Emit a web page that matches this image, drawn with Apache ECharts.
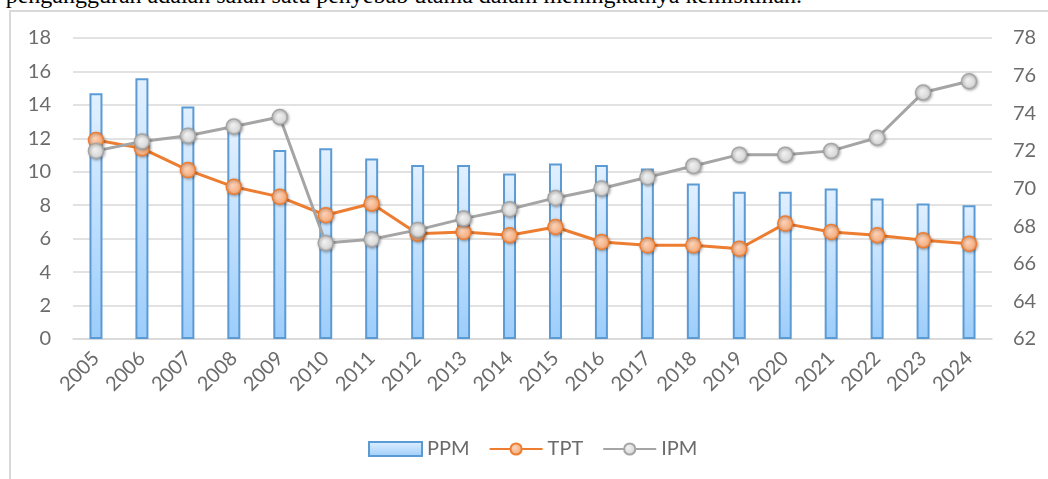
<!DOCTYPE html>
<html>
<head>
<meta charset="utf-8">
<script src="https://cdn.jsdelivr.net/npm/echarts@6/dist/echarts.min.js"></script>
<style>
html,body{margin:0;padding:0;background:#fff;overflow:hidden;}
#top{position:absolute;left:-7px;top:-17px;font-family:"Liberation Serif","Times New Roman",serif;font-size:24px;line-height:24px;color:#000;white-space:nowrap;}
#frame{position:absolute;left:9px;top:10px;width:1100px;height:600px;border:2px solid #d9d9d9;box-sizing:border-box;}
#main{position:absolute;left:0;top:0;width:1048px;height:479px;}
</style>
</head>
<body>
<div id="top">t pengangguran adalah salah satu penyebab utama dalam meningkatnya kemiskinan.</div>
<div id="frame"></div>
<div id="main"></div>
<script>
const years = ['2005','2006','2007','2008','2009','2010','2011','2012','2013','2014','2015','2016','2017','2018','2019','2020','2021','2022','2023','2024'];
const ppm = [14.7,15.6,13.9,12.6,11.3,11.4,10.8,10.4,10.4,9.9,10.5,10.4,10.2,9.3,8.8,8.8,9.0,8.4,8.1,8.0];
const tpt = [11.9,11.4,10.1,9.1,8.5,7.4,8.1,6.3,6.4,6.2,6.7,5.8,5.6,5.6,5.4,6.9,6.4,6.2,5.9,5.7];
const ipm = [72.0,72.5,72.8,73.3,73.8,67.1,67.3,67.8,68.4,68.9,69.5,70.0,70.6,71.2,71.8,71.8,72.0,72.7,75.1,75.7];
const leftTicks = {min:0,max:18,interval:2};
const rightTicks = {min:62,max:78,interval:2};

const chart = echarts.init(document.getElementById('main'), null, {renderer:'canvas'});
const font = 'Lato, "Noto Sans", sans-serif';
const labelColor = '#6b6b6b';
const gridColor = '#d9d9d9';
const fs = 20;
chart.setOption({
  animation:false,
  backgroundColor:'transparent',
  grid:{left:73,right:56,top:38,bottom:140,containLabel:false},
  legend:{
    left:368, top:439, padding:0, itemWidth:53, itemHeight:14, itemGap:19,
    textStyle:{color:labelColor,fontSize:fs,fontFamily:font,padding:[0,0,0,0]},
    data:[{name:'PPM',icon:'rect'},{name:'TPT'},{name:'IPM'}]
  },
  xAxis:{
    type:'category', data:years, boundaryGap:true,
    axisLine:{lineStyle:{color:gridColor,width:1.5}},
    axisTick:{show:false},
    axisLabel:{rotate:45,color:labelColor,fontSize:fs,fontFamily:font,margin:16,interval:0}
  },
  yAxis:[
    {type:'value',min:leftTicks.min,max:leftTicks.max,interval:leftTicks.interval,
     axisLine:{show:false},axisTick:{show:false},
     axisLabel:{color:labelColor,fontSize:fs,fontFamily:font,margin:22},
     splitLine:{lineStyle:{color:gridColor,width:1.5}}},
    {type:'value',min:rightTicks.min,max:rightTicks.max,interval:rightTicks.interval,
     axisLine:{show:false},axisTick:{show:false},
     axisLabel:{color:labelColor,fontSize:fs,fontFamily:font,margin:21},
     splitLine:{show:false}}
  ],
  series:[
    {name:'PPM',type:'bar',data:ppm,barWidth:13,yAxisIndex:0,
     itemStyle:{
       color:new echarts.graphic.LinearGradient(0,0,0,1,[{offset:0,color:'#e2f0ff'},{offset:1,color:'#9ccdfb'}]),
       borderColor:'#5b9bd5',borderWidth:2
     }},
    {name:'TPT',type:'line',data:tpt,yAxisIndex:0,symbol:'circle',symbolSize:15,
     lineStyle:{color:'#ed7d31',width:3},
     itemStyle:{
       color:new echarts.graphic.RadialGradient(0.4,0.4,0.7,[{offset:0,color:'#fcd3b8'},{offset:1,color:'#f3a06b'}]),
       borderColor:'#ed7d31',borderWidth:1.5,
       shadowColor:'rgba(0,0,0,0.3)',shadowBlur:3,shadowOffsetX:1,shadowOffsetY:1
     }},
    {name:'IPM',type:'line',data:ipm,yAxisIndex:1,symbol:'circle',symbolSize:15,
     lineStyle:{color:'#a5a5a5',width:3},
     itemStyle:{
       color:new echarts.graphic.RadialGradient(0.4,0.4,0.7,[{offset:0,color:'#f2f2f2'},{offset:1,color:'#cfcfcf'}]),
       borderColor:'#a5a5a5',borderWidth:1.5,
       shadowColor:'rgba(0,0,0,0.3)',shadowBlur:3,shadowOffsetX:1,shadowOffsetY:1
     }}
  ]
});
</script>
</body>
</html>
